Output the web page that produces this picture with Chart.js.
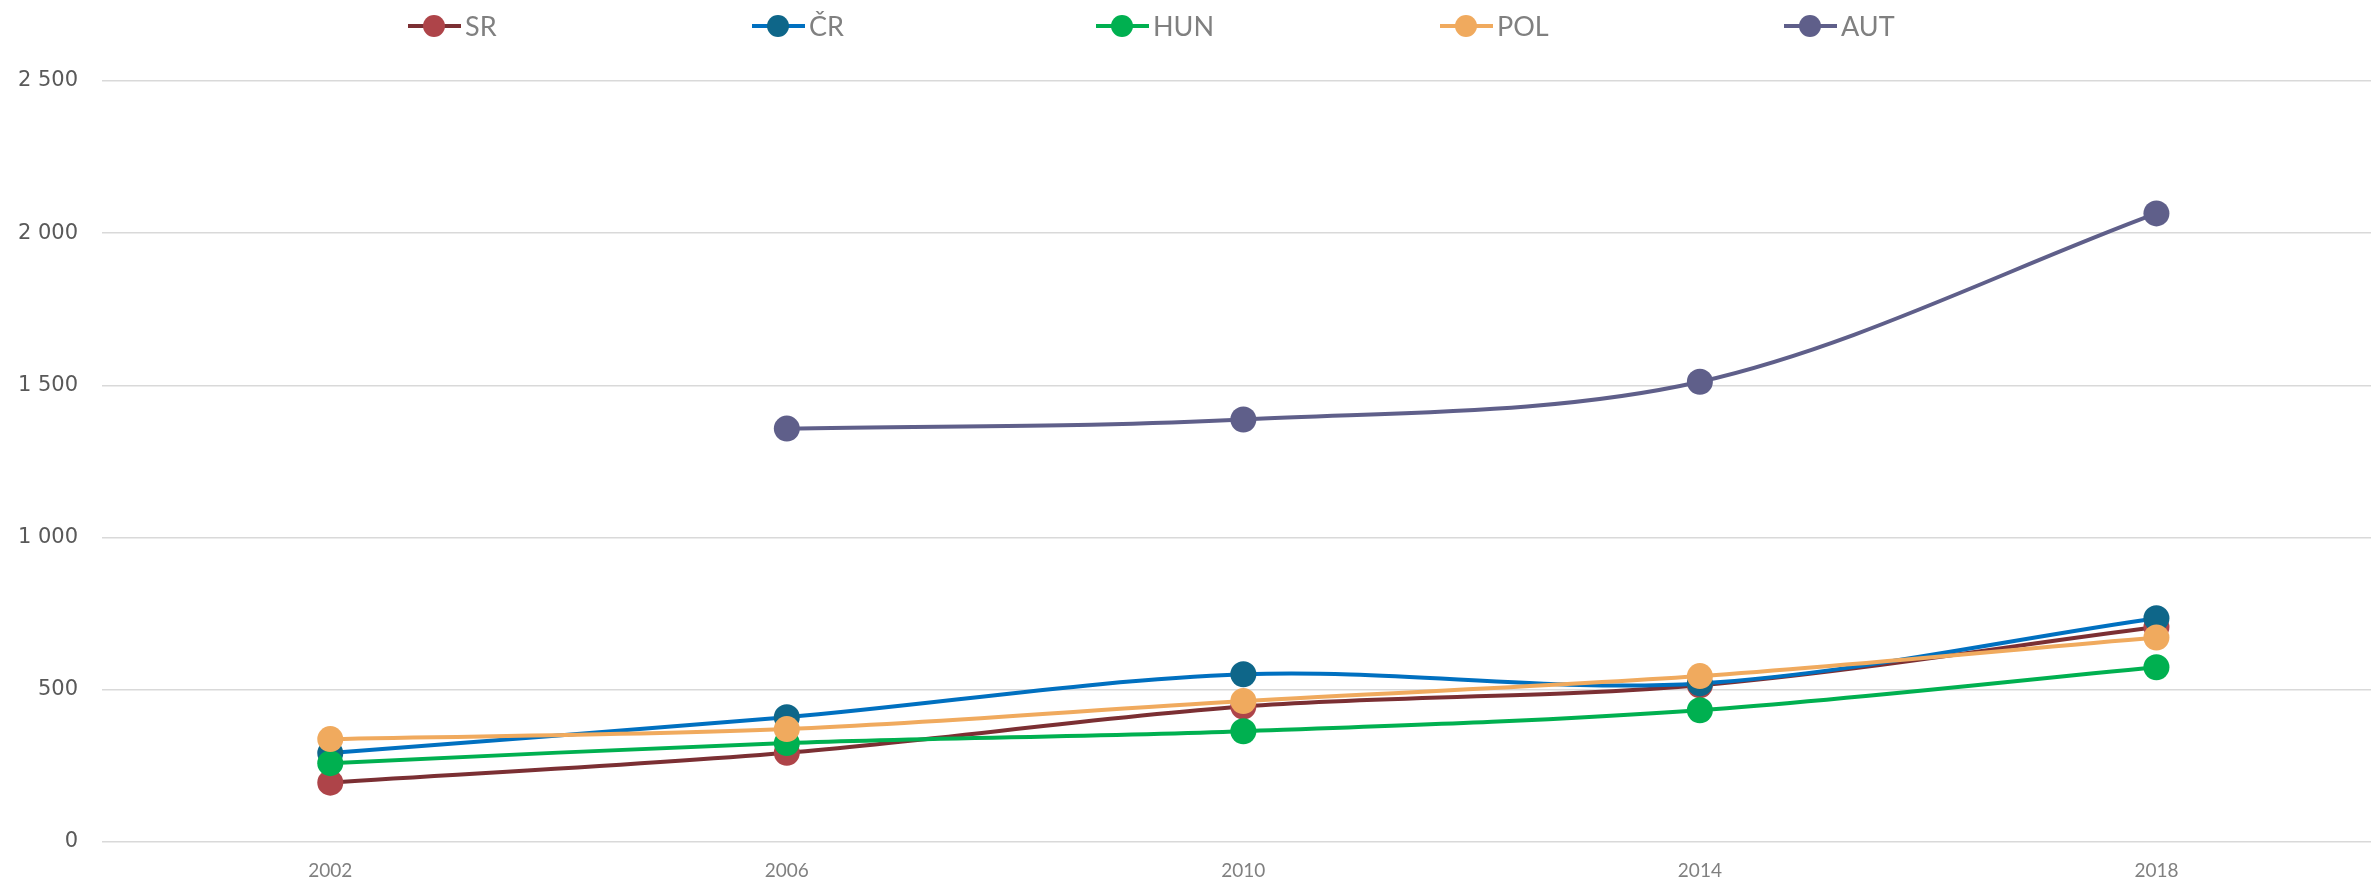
<!DOCTYPE html>
<html>
<head>
<meta charset="utf-8">
<script src="https://cdn.jsdelivr.net/npm/chart.js@4.4.0/dist/chart.umd.min.js"></script>
<style>
  html, body { margin: 0; padding: 0; background: #fff; overflow: hidden; }
  canvas { display: block; }
</style>
</head>
<body>
<canvas id="myChart" width="2371" height="879"></canvas>
<script>
    var years = [2002, 2006, 2010, 2014, 2018]
    var seriesNames = ['SR', 'ČR', 'HUN', 'POL', 'AUT']
    var srData = [195, 293, 445, 515, 706]
    var crData = [292, 410, 551, 521, 735]
    var hunData = [259, 325, 364, 433, 574]
    var polData = [338, 371, 463, 545, 672]
    var autData = [null, 1358, 1388, 1512, 2065]
    var yTicks = [0, 500, 1000, 1500, 2000, 2500]

    var lineColors = ['#7B2F33', '#0070C0', '#00B050', '#F0AA5E', '#5F5F8A']
    var markerColors = ['#AE4449', '#0E6689', '#00B050', '#F0AA5E', '#5F5F8A']

    function points(vals) {
        return years.map(function(yr, i) { return { x: yr, y: vals[i] } })
    }

    var allData = [srData, crData, hunData, polData, autData]
    var datasets = allData.map(function(vals, i) {
        return {
            label: seriesNames[i],
            data: points(vals),
            borderColor: lineColors[i],
            backgroundColor: markerColors[i],
            pointBackgroundColor: markerColors[i],
            pointBorderColor: markerColors[i],
            pointBorderWidth: 0,
            pointRadius: 13,
            borderWidth: 4,
            tension: 0.33,
            fill: false,
            order: 5 - i
        }
    })

    function fmt(v) {
        return String(v).replace(/\B(?=(\d{3})+(?!\d))/g, ' ')
    }

    // legend drawn by hand so items sit at even spacing like the original
    var legendPlugin = {
        id: 'rowLegend',
        afterDraw: function(chart) {
            var ctx = chart.ctx
            ctx.save()
            ctx.font = '27px Lato'
            ctx.textBaseline = 'middle'
            ctx.textAlign = 'left'
            var y = 26
            seriesNames.forEach(function(name, i) {
                var cx = 434 + i * 344
                ctx.strokeStyle = lineColors[i]
                ctx.lineWidth = 4
                ctx.beginPath()
                ctx.moveTo(cx - 26, y)
                ctx.lineTo(cx + 27, y)
                ctx.stroke()
                ctx.fillStyle = markerColors[i]
                ctx.beginPath()
                ctx.arc(cx, y, 11, 0, Math.PI * 2)
                ctx.fill()
                ctx.fillStyle = '#808080'
                ctx.fillText(name, cx + 31, y + 1)
            })
            ctx.restore()
        }
    }

    var ctx = document.getElementById('myChart').getContext('2d');
    var myChart = new Chart(ctx, {
        type: 'line',
        data: { datasets: datasets },
        plugins: [legendPlugin],
        options: {
            responsive: false,
            animation: false,
            layout: { autoPadding: false, padding: { top: 81, right: 0, bottom: 0, left: 0 } },
            plugins: {
                legend: { display: false },
                tooltip: { enabled: false }
            },
            scales: {
                x: {
                    type: 'linear',
                    min: 2000,
                    max: 2019.88,
                    afterBuildTicks: function(scale) {
                        scale.ticks = years.map(function(v) { return { value: v } })
                    },
                    afterFit: function(scale) { scale.height = 37 },
                    grid: { display: false, drawTicks: false },
                    border: { display: false },
                    ticks: {
                        autoSkip: false,
                        maxRotation: 0,
                        padding: 17,
                        color: '#808080',
                        font: { family: 'Lato', size: 19 },
                        callback: function(v) { return String(v) }
                    }
                },
                y: {
                    min: 0,
                    max: 2500,
                    afterBuildTicks: function(scale) {
                        scale.ticks = yTicks.map(function(v) { return { value: v } })
                    },
                    afterFit: function(scale) { scale.width = 102 },
                    grid: { color: '#D9D9D9', lineWidth: 1.5, drawTicks: false },
                    border: { display: false },
                    ticks: {
                        padding: 24,
                        color: '#595959',
                        font: { family: 'DejaVu Sans', size: 21 },
                        callback: function(v) { return fmt(v) }
                    }
                }
            }
        }
    });
</script>
</body>
</html>
